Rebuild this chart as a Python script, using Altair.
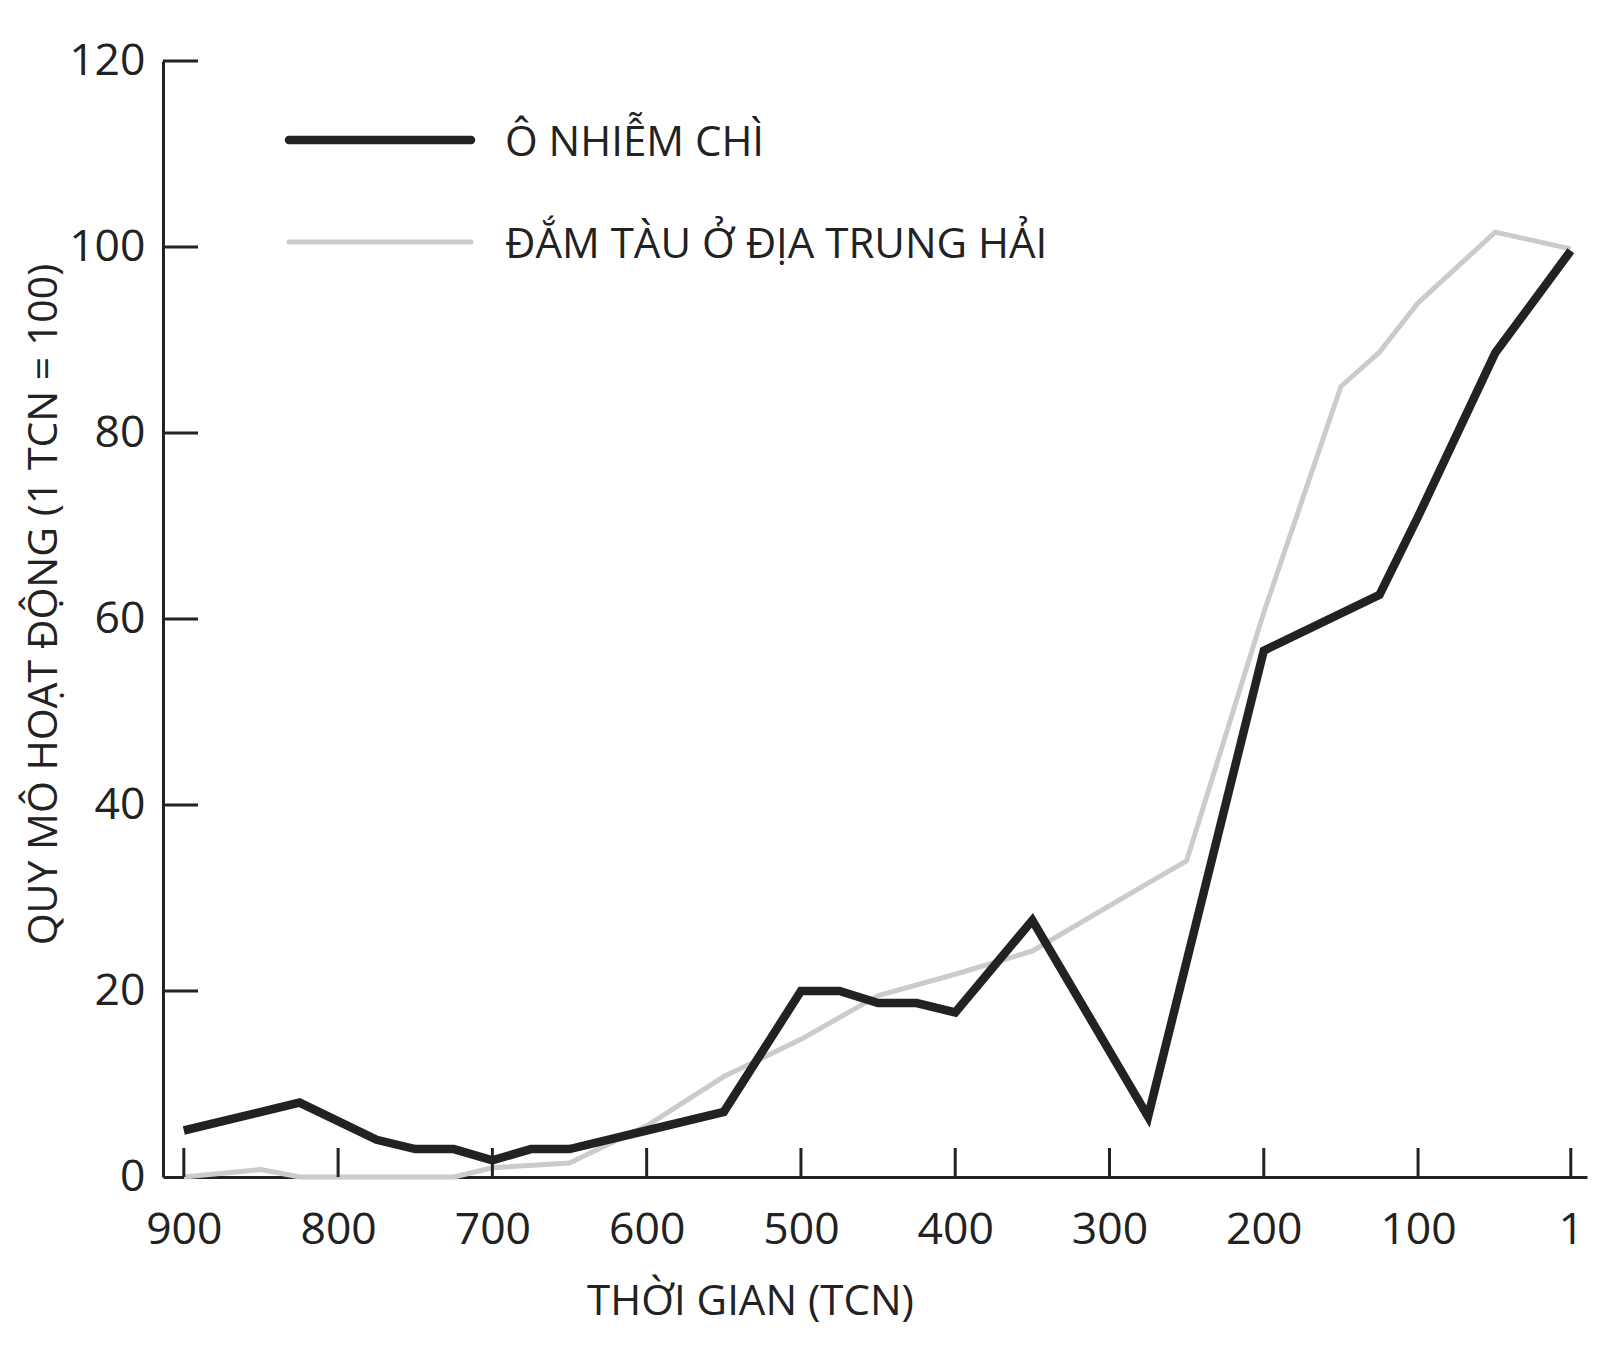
import altair as alt
import pandas as pd

# ---- data ----
lead_years = [900, 825, 775, 750, 725, 700, 675, 650, 600, 550, 500, 475, 450, 425, 400, 350, 275, 200, 125, 100, 50, 1]
lead_vals = [5, 8, 4, 3, 3, 1.8, 3, 3, 5, 7, 20, 20, 18.7, 18.7, 17.7, 27.6, 6.5, 56.6, 62.6, 71, 88.6, 99.6]

ship_years = [900, 850, 825, 725, 700, 650, 600, 550, 500, 450, 400, 350, 275, 250, 200, 150, 125, 100, 50, 1]
ship_vals = [0, 0.8, 0, 0, 1, 1.5, 5.5, 10.8, 14.8, 19.5, 21.8, 24.3, 31.6, 34, 60.7, 85, 88.7, 94, 101.6, 99.8]

x_ticks = [900, 800, 700, 600, 500, 400, 300, 200, 100, 1]
y_ticks = [0, 20, 40, 60, 80, 100, 120]

series_names = ["Ô NHIỄM CHÌ", "ĐẮM TÀU Ở ĐỊA TRUNG HẢI"]
series_colors = ["#222222", "#cbcbcb"]
series_widths = [8.5, 5]

x_title = "THỜI GIAN (TCN)"
y_title = "QUY MÔ HOẠT ĐỘNG (1 TCN = 100)"

W, H = 1424, 1116
FONT = "Open Sans"
INK = "#222222"

rows = []
for yr, v in zip(lead_years, lead_vals):
    rows.append({"year": yr, "value": v, "series": series_names[0], "sw": series_widths[0]})
for yr, v in zip(ship_years, ship_vals):
    rows.append({"year": yr, "value": v, "series": series_names[1], "sw": series_widths[1]})
df = pd.DataFrame(rows)

xscale = alt.Scale(domain=[913.5, -9.5], nice=False, zero=False)
yscale = alt.Scale(domain=[0, 120], nice=False)
cscale = alt.Scale(domain=series_names, range=series_colors)

x_axis = alt.Axis(
    values=x_ticks, format="d", ticks=False, grid=False,
    domainColor=INK, domainWidth=3,
    labelFont=FONT, labelFontSize=44.5, labelColor=INK, labelPadding=31,
    title=x_title, titleFont=FONT, titleFontSize=42, titleFontWeight="normal",
    titleColor=INK, titleX=587, titleY=104,
)
y_axis = alt.Axis(
    values=y_ticks, ticks=False, grid=False,
    domainColor=INK, domainWidth=3,
    labelFont=FONT, labelFontSize=44.5, labelColor=INK, labelPadding=18,
    title=y_title, titleFont=FONT, titleFontSize=41, titleFontWeight="normal",
    titleColor=INK, titleX=-98, titleY=543,
)

gray = alt.Chart(df[df["series"] == series_names[1]]).mark_line(strokeJoin="round").encode(
    x=alt.X("year:Q", scale=xscale, axis=x_axis),
    y=alt.Y("value:Q", scale=yscale, axis=y_axis),
    color=alt.Color("series:N", scale=cscale, legend=None),
    strokeWidth=alt.StrokeWidth("sw:Q", scale=None),
)
black = alt.Chart(df[df["series"] == series_names[0]]).mark_line(strokeJoin="miter").encode(
    x=alt.X("year:Q", scale=xscale, axis=x_axis),
    y=alt.Y("value:Q", scale=yscale, axis=y_axis),
    color=alt.Color("series:N", scale=cscale, legend=None),
    strokeWidth=alt.StrokeWidth("sw:Q", scale=None),
)

# inward ticks
xt = alt.Chart(pd.DataFrame({"year": x_ticks})).mark_rule(color=INK, strokeWidth=3).encode(
    x=alt.X("year:Q", scale=xscale, axis=x_axis),
    y=alt.value(H),
    y2=alt.value(H - 29),
)
yt = alt.Chart(pd.DataFrame({"value": y_ticks[1:]})).mark_rule(color=INK, strokeWidth=3).encode(
    y=alt.Y("value:Q", scale=yscale, axis=y_axis),
    x=alt.value(0),
    x2=alt.value(35),
)

# manual legend
leg_df = pd.DataFrame({
    "series": series_names,
    "sw": series_widths,
    "ly": [79, 181],
})
leg_lines = alt.Chart(leg_df).mark_rule(strokeCap="round").encode(
    x=alt.value(126), x2=alt.value(308),
    y=alt.Y("ly:Q", scale=None, axis=None),
    color=alt.Color("series:N", scale=cscale, legend=None),
    strokeWidth=alt.StrokeWidth("sw:Q", scale=None),
)
leg_text = alt.Chart(leg_df).mark_text(
    align="left", baseline="middle", font=FONT, fontSize=42, color=INK, dy=3
).encode(
    x=alt.value(342),
    y=alt.Y("ly:Q", scale=None, axis=None),
    text="series:N",
)

chart = alt.layer(gray, black, xt, yt, leg_lines, leg_text).properties(
    width=W, height=H,
    background="white",
    autosize=alt.AutoSizeParams(type="none"),
    padding={"left": 155, "top": 53, "right": 5, "bottom": 180},
).configure_view(stroke=None)

chart.save("out.html", embed_options={"renderer": "svg", "actions": False})
